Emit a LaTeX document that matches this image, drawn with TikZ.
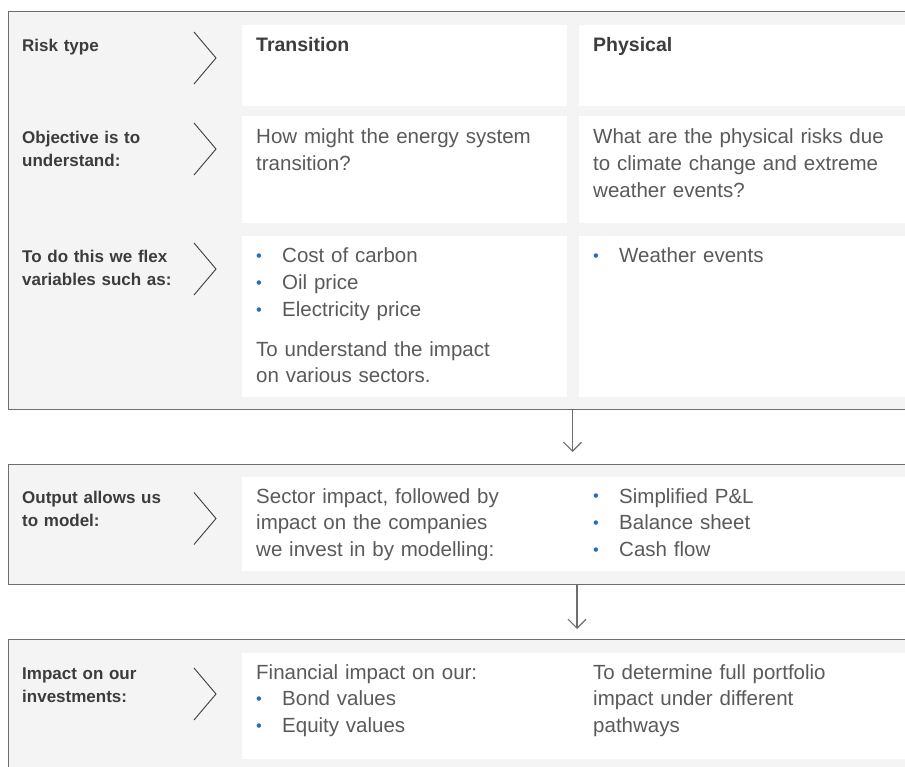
\documentclass[tikz,border=0pt]{standalone}
\usepackage{fontspec}
\setmainfont{Liberation Sans}
\usetikzlibrary{arrows.meta}

\definecolor{framegrey}{HTML}{6E6E6E}
\definecolor{panelgrey}{HTML}{F4F4F4}
\definecolor{headgrey}{HTML}{3C3C3C}
\definecolor{bodygrey}{HTML}{5A5A5A}
\definecolor{bulletblue}{HTML}{1F6FC0}

\newcommand{\bul}{\makebox[26pt][l]{\raisebox{1.1pt}{\textcolor{bulletblue}{\scalebox{0.8}{\textbullet}}}}}

\tikzset{
  panel/.style={draw=framegrey, line width=1.3pt, fill=panelgrey, anchor=north west, inner sep=0pt, minimum width=905pt},
  rowhead/.style={anchor=base west, inner sep=0pt, text width=170pt, align=left, text=headgrey, font=\bfseries\fontsize{17}{23}\selectfont},
  colhead/.style={anchor=base west, inner sep=0pt, text width=250pt, align=left, text=headgrey, font=\bfseries\fontsize{19.5}{24}\selectfont},
  celltext/.style={anchor=base west, inner sep=0pt, text width=300pt, align=left, text=bodygrey, font=\fontsize{20.5}{26.7}\selectfont},
  chev/.style={draw=headgrey, line width=0.9pt},
  flow/.style={draw=framegrey, line width=1.1pt, -{Straight Barb[length=9pt,width=18pt]}}
}

\begin{document}
\begin{tikzpicture}[x=1pt, y=-1pt]
    \useasboundingbox (0,0) rectangle (905,767);
    \clip (0,0) rectangle (905,767);

    % Grey panels
    \node[panel, minimum height=398pt] (risk) at (8,11) {};
    \node[panel, minimum height=120pt] (output) at (8,464) {};
    \node[panel, minimum height=140pt] (impact) at (8,639) {};

    % White cells
    \foreach \x/\y/\w/\h in {242/25/325/81, 579/25/330/81,
                             242/116/325/107, 579/116/330/107,
                             242/236/325/161, 579/236/330/161,
                             242/477/670/94, 242/653/670/106}
        \fill[white] (\x,\y) rectangle ++(\w,\h);

    % Chevrons
    \foreach \y in {58,149,269,518.5,694}
        \draw[chev] (194,\y-26) -- (216,\y) -- (194,\y+26);

    % Risk type
    \node[rowhead] (risklbl) at (22,52) {Risk type};
    \node[colhead] (transhd) at (256,52) {Transition};
    \node[colhead] (physhd) at (593,52) {Physical};

    % Objective
    \node[rowhead] (objlbl) at (22,144) {Objective is to\\understand:};
    \node[celltext] (transobj) at (256,144) {How might the energy system\\transition?};
    \node[celltext] (physobj) at (593,144) {What are the physical risks due\\to climate change and extreme\\weather events?};

    % Variables
    \node[rowhead] (flexlbl) at (22,263) {To do this we flex\\variables such as:};
    \node[celltext] (transvar) at (256,263) {\bul Cost of carbon\\\bul Oil price\\\bul Electricity price\\[13pt]To understand the impact\\on various sectors.};
    \node[celltext] (physvar) at (593,263) {\bul Weather events};

    % Output
    \node[rowhead] (outlbl) at (22,503) {Output allows us\\to model:};
    \node[celltext] (outtext) at (256,503) {Sector impact, followed by\\impact on the companies\\we invest in by modelling:};
    \node[celltext] (outlist) at (593,503) {\bul Simplified P\&L\\\bul Balance sheet\\\bul Cash flow};

    % Impact
    \node[rowhead] (implbl) at (22,679) {Impact on our\\investments:};
    \node[celltext] (imptext) at (256,679) {Financial impact on our:\\\bul Bond values\\\bul Equity values};
    \node[celltext] (impnote) at (593,679) {To determine full portfolio\\impact under different\\pathways};

    % Arrows
    \coordinate (ax1) at (572.5,0);
    \coordinate (ax2) at (577,0);
    \draw[flow, shorten >=12pt] (risk.south -| ax1) -- (output.north -| ax1);
    \draw[flow, shorten >=10pt] (output.south -| ax2) -- (impact.north -| ax2);
\end{tikzpicture}
\end{document}
